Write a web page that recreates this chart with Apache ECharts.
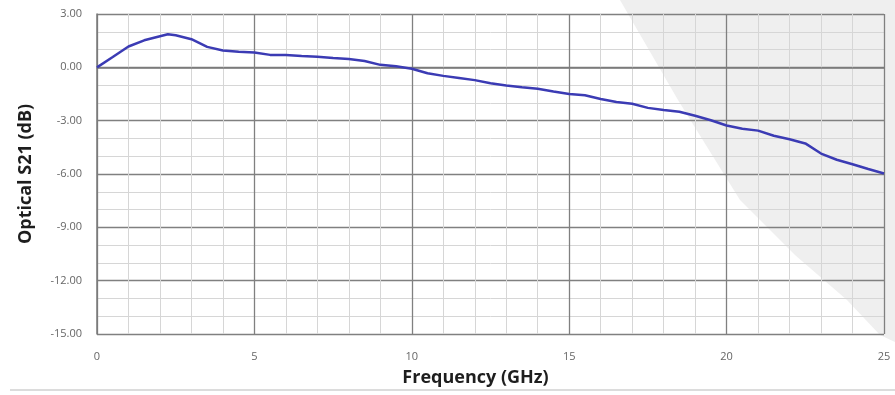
<!DOCTYPE html>
<html>
<head>
<meta charset="utf-8">
<script src="https://cdn.jsdelivr.net/npm/echarts@6/dist/echarts.min.js"></script>
<style>
html,body{margin:0;padding:0;background:#fff;}
#chart{width:895px;height:395px;}
</style>
</head>
<body>
<div id="chart"></div>
<script>
const freqGHz = [0,0.5,1,1.5,2,2.25,2.5,3,3.5,4,4.5,5,5.5,6,6.5,7,7.5,8,8.5,9,9.5,10,10.5,11,11.5,12,12.5,13,13.5,14,14.5,15,15.5,16,16.5,17,17.5,18,18.5,19,19.5,20,20.5,21,21.5,22,22.5,23,23.5,24,24.5,25];
const s21dB = [0.00,0.58,1.17,1.52,1.75,1.86,1.80,1.58,1.15,0.95,0.88,0.84,0.70,0.70,0.64,0.60,0.52,0.47,0.36,0.14,0.06,-0.08,-0.33,-0.48,-0.60,-0.72,-0.90,-1.02,-1.12,-1.20,-1.36,-1.50,-1.57,-1.78,-1.95,-2.05,-2.28,-2.40,-2.50,-2.72,-2.98,-3.27,-3.45,-3.56,-3.85,-4.05,-4.28,-4.85,-5.20,-5.45,-5.72,-5.97];
const xTicks = [0,5,10,15,20,25];
const yTicks = [-15,-12,-9,-6,-3,0,3];

const chart = echarts.init(document.getElementById('chart'));
chart.setOption({
  backgroundColor: '#ffffff',
  animation: false,
  graphic: [
    {
      type: 'polygon', z: -10, silent: true,
      shape: { points: [[620,0],[678,100],[740,200],[795,255],[847,300],[880,335],[895,342],[895,0]] },
      style: { fill: '#efefef' }
    },
    {
      type: 'line', z: -10, silent: true,
      shape: { x1: 10, y1: 390, x2: 895, y2: 390 },
      style: { stroke: '#d0d0d0', lineWidth: 1.5 }
    }
  ],
  grid: { left: 97, right: 11, top: 14, bottom: 61, containLabel: false },
  xAxis: {
    type: 'value', min: xTicks[0], max: xTicks[xTicks.length-1], interval: 5,
    name: 'Frequency (GHz)', nameLocation: 'middle', nameGap: 35,
    nameTextStyle: { fontFamily: 'Open Sans', fontWeight: 'bold', fontSize: 18, color: '#1e1e1e', padding: [0, 30, 0, 0] },
    axisLine: { show: true, lineStyle: { color: '#7a7a7a', width: 1.5 } },
    axisTick: { show: false },
    axisLabel: { margin: 17, fontFamily: 'Open Sans', fontSize: 11, color: '#666' },
    splitLine: { show: true, lineStyle: { color: '#808080', width: 1.3 } },
    minorTick: { show: false, splitNumber: 5 },
    minorSplitLine: { show: true, lineStyle: { color: '#d6d6d6', width: 1 } }
  },
  yAxis: {
    type: 'value', min: yTicks[0], max: yTicks[yTicks.length-1], interval: 3,
    name: 'Optical S21 (dB)', nameLocation: 'middle', nameGap: 62, nameRotate: 90,
    nameTextStyle: { fontFamily: 'Open Sans', fontWeight: 'bold', fontSize: 18, color: '#1e1e1e' },
    axisLine: { show: true, lineStyle: { color: '#7a7a7a', width: 1.5 } },
    axisTick: { show: false },
    axisLabel: { margin: 15, fontFamily: 'Open Sans', fontSize: 11, color: '#666',
      formatter: v => v.toFixed(2) },
    splitLine: { show: true, lineStyle: { color: '#808080', width: 1.3 } },
    minorTick: { show: false, splitNumber: 3 },
    minorSplitLine: { show: true, lineStyle: { color: '#d6d6d6', width: 1 } }
  },
  series: [{
    type: 'line',
    data: freqGHz.map((f, i) => [f, s21dB[i]]),
    showSymbol: false, symbol: 'none', smooth: false,
    lineStyle: { color: '#3b3bb4', width: 2.5 },
    z: 5
  }]
});
</script>
</body>
</html>
